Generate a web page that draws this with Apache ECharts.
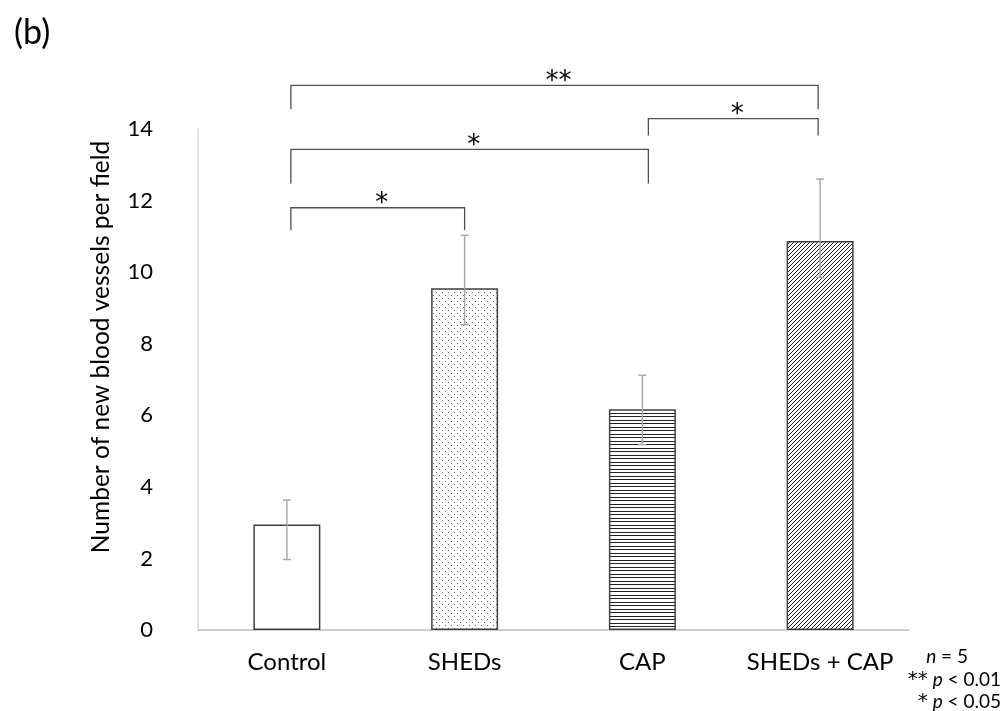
<!DOCTYPE html>
<html><head><meta charset="utf-8">
<script src="https://cdn.jsdelivr.net/npm/echarts@6/dist/echarts.min.js"></script>
<style>html,body{margin:0;padding:0;background:#fff}#c{width:1005px;height:711px}</style>
</head><body><div id="c"></div>
<script>
// ---- data ----
const categories = ['Control', 'SHEDs', 'CAP', 'SHEDs + CAP'];
const means = [2.95, 9.55, 6.17, 10.87];
const errLow = [1.97, 8.53, 5.18, 9.85];
const errHigh = [3.63, 11.03, 7.12, 12.6];
const yTickMin = 0, yTickMax = 14, yTickStep = 2;
// significance brackets
const bracketFrom = [0, 2, 0, 0];
const bracketTo = [3, 3, 2, 1];
const bracketTop = [15.22, 14.29, 13.43, 11.8];
const bracketLegEnd = [14.55, 13.82, 12.48, 11.17];
const bracketLabel = ['**', '*', '*', '*'];
const titleText = '(b)';
const yTitle = 'Number of new blood vessels per field';
const noteN = 5;
const noteP = ['0.01', '0.05'];

// ---- patterns ----
function makePattern(kind) {
  const c = document.createElement('canvas');
  const ctx = c.getContext('2d');
  if (kind === 'dots') {
    c.width = 6; c.height = 6;
    ctx.fillStyle = '#fff'; ctx.fillRect(0, 0, 6, 6);
    ctx.fillStyle = '#6a6a6a';
    ctx.fillRect(1, 1, 1, 1); ctx.fillRect(4, 4, 1, 1);
  } else if (kind === 'hlines') {
    c.width = 7; c.height = 7;
    ctx.fillStyle = '#fff'; ctx.fillRect(0, 0, 7, 7);
    ctx.fillStyle = '#222';
    ctx.fillRect(0, 0, 7, 1); ctx.fillRect(0, 3, 7, 1);
  } else {
    c.width = 4; c.height = 4;
    ctx.fillStyle = '#fff'; ctx.fillRect(0, 0, 4, 4);
    ctx.fillStyle = '#2a2a2a';
    for (let i = 0; i < 4; i++) ctx.fillRect(i, 3 - i, 1, 1);
  }
  return { image: c, repeat: 'repeat' };
}
const fills = ['#ffffff', makePattern('dots'), makePattern('hlines'), makePattern('diag')];
const legNudge = [4, 0, 6, -2];

const FONT = 'Lato, "Open Sans", "Liberation Sans", sans-serif';
const STAR = '"DejaVu Sans", sans-serif';
const chart = echarts.init(document.getElementById('c'), null, { renderer: 'canvas' });

const noteRich = {
  i: { fontStyle: 'italic', fontSize: 19, fontFamily: FONT, fill: '#000' },
  s: { fontSize: 20, fontFamily: STAR, fill: '#000' }
};

const option = {
  backgroundColor: '#fff',
  animation: false,
  grid: { left: 198, right: 96, top: 129, bottom: 81 },
  xAxis: {
    type: 'category',
    data: categories,
    axisLine: { lineStyle: { color: '#bfbfbf', width: 1.5 } },
    axisTick: { show: false },
    axisLabel: { interval: 0, hideOverlap: false, color: '#000', fontFamily: FONT, fontSize: 24, margin: 20 }
  },
  yAxis: {
    type: 'value',
    min: yTickMin, max: yTickMax, interval: yTickStep,
    axisLine: { show: true, lineStyle: { color: '#d9d9d9', width: 1.5 } },
    axisTick: { show: false },
    splitLine: { show: false },
    axisLabel: { color: '#000', fontFamily: FONT, fontSize: 22, margin: 45, align: 'right' }
  },
  series: [
    {
      type: 'bar',
      barWidth: 67,
      data: means.map((v, i) => ({
        value: v,
        itemStyle: { color: fills[i], borderColor: '#404040', borderWidth: 1.5 }
      })),
      z: 2
    },
    {
      type: 'custom',
      z: 3,
      encode: { x: 0, y: [1, 2] },
      data: categories.map((c, i) => [i, errLow[i], errHigh[i]]),
      renderItem: function (params, api) {
        const i = api.value(0);
        const hi = api.coord([i, api.value(2)]);
        const lo = api.coord([i, api.value(1)]);
        const w = 4;
        const st = { stroke: '#a6a6a6', lineWidth: 1.4 };
        return {
          type: 'group', children: [
            { type: 'line', shape: { x1: hi[0], y1: hi[1], x2: lo[0], y2: lo[1] }, style: st },
            { type: 'line', shape: { x1: hi[0] - w, y1: hi[1], x2: hi[0] + w, y2: hi[1] }, style: st },
            { type: 'line', shape: { x1: lo[0] - w, y1: lo[1], x2: lo[0] + w, y2: lo[1] }, style: st }
          ]
        };
      }
    },
    {
      type: 'custom',
      z: 4,
      clip: false,
      encode: { x: 0, y: 1 },
      data: bracketFrom.map((f, k) => [f, bracketTop[k]]),
      renderItem: function (params, api) {
        const k = params.dataIndex;
        const a = bracketFrom[k], b = bracketTo[k];
        const pa = api.coord([a, bracketTop[k]]);
        const pb = api.coord([b, bracketTop[k]]);
        const ea = api.coord([a, bracketLegEnd[k]]);
        const x1 = pa[0] + legNudge[a], x2 = pb[0] + legNudge[b];
        const yt = pa[1], yb = ea[1];
        const st = { stroke: '#505050', lineWidth: 1.3, fill: null };
        return {
          type: 'group', children: [
            { type: 'polyline', shape: { points: [[x1, yb], [x1, yt], [x2, yt], [x2, yb]] }, style: st },
            { type: 'text', style: { text: bracketLabel[k], x: (x1 + x2) / 2 + 4, y: yt - 3, align: 'center', verticalAlign: 'middle', fontSize: 26, fontFamily: STAR, fill: '#000' } }
          ]
        };
      }
    }
  ],
  graphic: [
    { type: 'text', x: 14, y: 33, style: { text: titleText, fontSize: 34, fontFamily: FONT, fill: '#000', verticalAlign: 'middle' } },
    { type: 'text', x: 101, y: 347, rotation: Math.PI / 2, style: { text: yTitle, fontSize: 24.5, fontFamily: FONT, fill: '#000', align: 'center', verticalAlign: 'middle' } },
    { type: 'text', x: 968, y: 657, style: { text: '{i|n} = ' + noteN, align: 'right', verticalAlign: 'middle', fontSize: 19, fontFamily: FONT, fill: '#000', rich: noteRich } },
    { type: 'text', x: 1001, y: 680, style: { text: '{s|**} {i|p} < ' + noteP[0], align: 'right', verticalAlign: 'middle', fontSize: 19, fontFamily: FONT, fill: '#000', rich: noteRich } },
    { type: 'text', x: 1001, y: 702, style: { text: '{s|*} {i|p} < ' + noteP[1], align: 'right', verticalAlign: 'middle', fontSize: 19, fontFamily: FONT, fill: '#000', rich: noteRich } }
  ]
};
chart.setOption(option);
</script>
</body></html>
